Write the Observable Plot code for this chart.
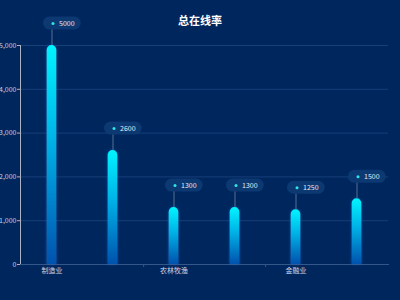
<!DOCTYPE html>
<html><head><meta charset="utf-8">
<script src="https://cdn.jsdelivr.net/npm/d3@7"></script>
<script src="https://cdn.jsdelivr.net/npm/@observablehq/plot@0.6"></script>
<style>
html,body{margin:0;padding:0;background:#00265e;}
#wrap{position:relative;width:400px;height:300px;overflow:hidden;font-family:"Noto Sans CJK SC","Noto Sans",sans-serif;}
#title{position:absolute;left:0;top:12px;width:400px;text-align:center;color:#fff;font-weight:bold;font-size:11px;line-height:16px;}
</style></head>
<body>
<div id="wrap"><div id="title">总在线率</div></div>
<script>
const categories = ["制造业", "建筑业", "农林牧渔", "交通运输", "金融业", "房地产"];
const values = [5000, 2600, 1300, 1300, 1250, 1500];
const yTicks = [0, 1000, 2000, 3000, 4000, 5000];

const data = categories.map((c, i) => ({cat: c, value: values[i]}));

const chart = Plot.plot({
  width: 400,
  height: 300,
  marginLeft: 20,
  marginRight: 12,
  marginTop: 45,
  marginBottom: 36,
  style: {background: "transparent", fontFamily: "'Noto Sans CJK SC','Noto Sans',sans-serif", fontSize: "7px"},
  x: {domain: categories, padding: 0, axis: null},
  y: {domain: [0, 5000], axis: null},
  marks: [
    Plot.gridY(yTicks.filter(d => d > 0), {stroke: "#173f78", strokeOpacity: 1, strokeWidth: 1}),
    Plot.axisY(yTicks, {label: null, tickFormat: d3.format(","), tickSize: 3, tickPadding: 1, stroke: "#aab4c4", fill: "#c9d2e0", fontSize: 7}),
    Plot.frame({anchor: "left", stroke: "#aab4c4"}),
    Plot.frame({anchor: "bottom", stroke: "#34578a"}),
    Plot.axisX({label: null, tickSize: 0, tickPadding: 4, fill: "#d0d8e6", fontSize: 7, tickFormat: d => categories.indexOf(d) % 2 === 0 ? d : ""}),
    Plot.axisX(categories.filter((d, i) => i % 2 === 1 && i < categories.length - 1), {label: null, dx: 30.67, tickSize: 3, stroke: "#34578a", tickFormat: () => ""}),
    Plot.barY(data, {x: "cat", y: "value", insetLeft: 25.7, insetRight: 25.7, fill: "url(#barGrad)", ry1: 5, rx: 5, className: "bars"}),
    Plot.ruleX(data, {x: "cat", y1: "value", y2: "value", insetTop: -16, insetBottom: 0, stroke: "#557090", strokeWidth: 1}),
    Plot.rect(data, {x: "cat", y1: "value", y2: "value", insetLeft: 22, insetRight: 1.3, insetTop: -6.5, insetBottom: -6.5, dy: -22, rx: 6.5, fill: "#0d3a72", fillOpacity: 0.95}),
    Plot.dot(data, {x: "cat", y: "value", dx: 1, dy: -22, r: 1.5, fill: "#2ee6e6", stroke: "none"}),
    Plot.text(data, {x: "cat", y: "value", text: d => String(d.value), dx: 7, dy: -22, textAnchor: "start", fill: "#e6ecf5", fontSize: 7})
  ]
});

const ns = "http://www.w3.org/2000/svg";
const defs = document.createElementNS(ns, "defs");
defs.innerHTML = `
<linearGradient id="barGrad" x1="0" y1="0" x2="0" y2="1">
  <stop offset="0%" stop-color="#00f4ff"/>
  <stop offset="45%" stop-color="#00b0e6"/>
  <stop offset="100%" stop-color="#0552ad"/>
</linearGradient>
<filter id="glow" x="-100%" y="-20%" width="300%" height="140%">
  <feGaussianBlur in="SourceAlpha" stdDeviation="1.5" result="b"/>
  <feFlood flood-color="#1a6fd0" flood-opacity="0.6"/>
  <feComposite in2="b" operator="in" result="g"/>
  <feMerge><feMergeNode in="g"/><feMergeNode in="SourceGraphic"/></feMerge>
</filter>`;
chart.insertBefore(defs, chart.firstChild);
const bars = chart.querySelector(".bars");
if (bars) bars.setAttribute("filter", "url(#glow)");
chart.style.position = "absolute";
chart.style.left = "0";
chart.style.top = "0";
document.getElementById("wrap").insertBefore(chart, document.getElementById("title"));
</script>
</body></html>
